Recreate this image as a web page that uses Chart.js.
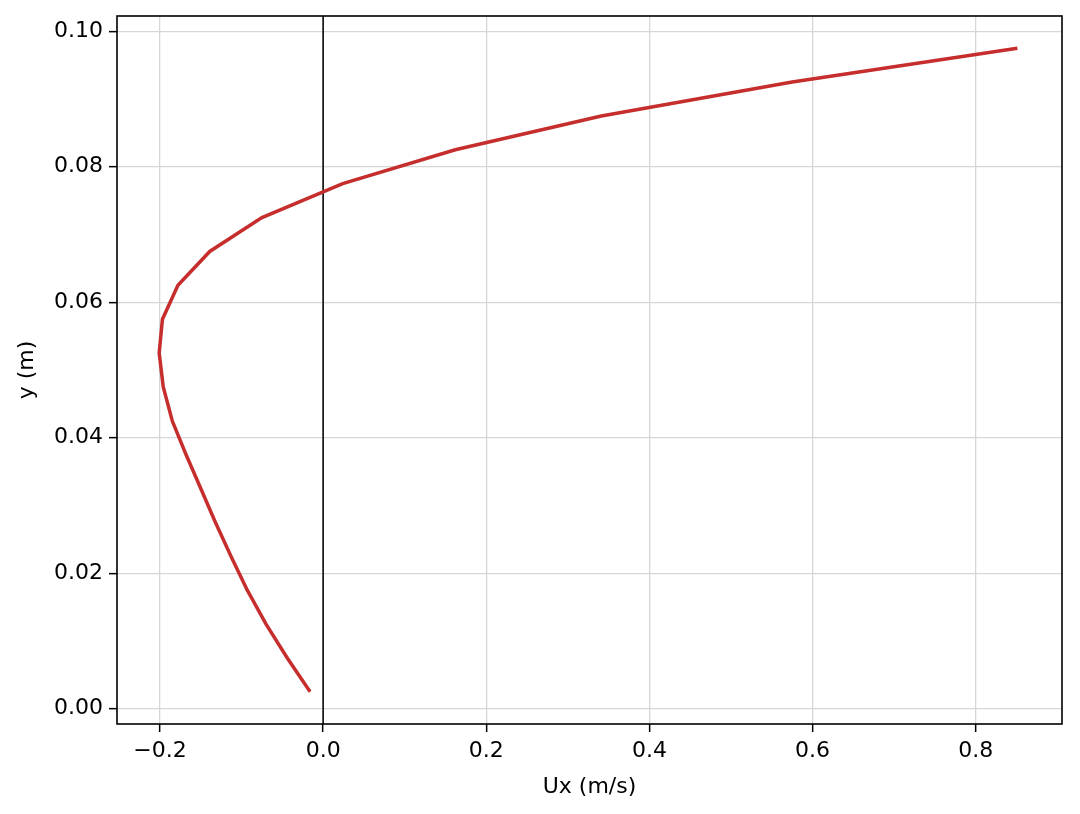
<!DOCTYPE html>
<html>
<head>
<meta charset="utf-8">
<script src="https://cdn.jsdelivr.net/npm/chart.js@4/dist/chart.umd.min.js"></script>
<style>
  html, body { margin: 0; padding: 0; background: #fff; }
  #graph { display: block; }
</style>
</head>
<body>
<canvas id="graph" width="1080" height="814"></canvas>
<script>
// velocity profile
var ux = [-0.016, -0.044, -0.070, -0.093, -0.113, -0.132, -0.150, -0.168, -0.185, -0.196,
          -0.201, -0.197, -0.178, -0.139, -0.075, 0.024, 0.162, 0.341, 0.575, 0.851];
var yPos = [0.0025, 0.0075, 0.0125, 0.0175, 0.0225, 0.0275, 0.0325, 0.0375, 0.0425, 0.0475,
            0.0525, 0.0575, 0.0625, 0.0675, 0.0725, 0.0775, 0.0825, 0.0875, 0.0925, 0.0975];

var xTicks = [-0.2, 0.0, 0.2, 0.4, 0.6, 0.8];
var yTicks = [0.00, 0.02, 0.04, 0.06, 0.08, 0.10];

var points = [];
for (let i = 0; i < ux.length; i++) {
    points.push({ x: ux[i], y: yPos[i] })
}

var police = "'DejaVu Sans', sans-serif";
var taille = 22;

// frame round the plot and the black line at Ux = 0
var cadre = {
    id: 'cadre',
    beforeDatasetsDraw: function (chart) {
        var c = chart.ctx, a = chart.chartArea;
        var x0 = chart.scales.x.getPixelForValue(0);
        c.save();
        c.strokeStyle = '#000';
        c.lineWidth = 1.5;
        c.beginPath();
        c.moveTo(x0, a.top);
        c.lineTo(x0, a.bottom);
        c.stroke();
        c.restore();
    },
    afterDraw: function (chart) {
        var c = chart.ctx, a = chart.chartArea;
        c.save();
        c.strokeStyle = '#000';
        c.lineWidth = 1.6;
        c.strokeRect(a.left, a.top, a.right - a.left, a.bottom - a.top);
        c.restore();
    }
}

function moins(v) {
    return String(v).replace('-', '\u2212');
}

var ctx = document.getElementById('graph').getContext('2d');
var data = {
    datasets: [{
        label: 'Ux',
        data: points,
        showLine: true,
        borderColor: '#c62d2d',
        borderWidth: 3.5,
        pointRadius: 0,
        tension: 0,
        fill: false
    }]
}
var options = {
    responsive: false,
    animation: false,
    layout: { padding: { left: 0, right: 18, top: 16, bottom: 0 } },
    plugins: { legend: { display: false }, tooltip: { enabled: false } },
    scales: {
        x: {
            type: 'linear',
            min: -0.2527,
            max: 0.9057,
            afterBuildTicks: function (s) { s.ticks = xTicks.map(v => ({ value: v })) },
            afterFit: function (s) { s.height = 90; s.paddingLeft = 0; s.paddingRight = 0 },
            grid: { color: '#d6d6d6', lineWidth: 1.3, tickColor: '#000', tickLength: 8, tickWidth: 1.5 },
            border: { display: false },
            ticks: {
                color: '#000',
                font: { family: police, size: taille },
                padding: 6,
                maxRotation: 0,
                callback: function (v) { return moins(v.toFixed(1)) }
            },
            title: { display: true, text: 'Ux (m/s)', color: '#000', font: { family: police, size: taille }, padding: { top: 2, bottom: 14 } }
        },
        y: {
            type: 'linear',
            min: -0.00225,
            max: 0.10225,
            afterBuildTicks: function (s) { s.ticks = yTicks.map(v => ({ value: v })) },
            afterFit: function (s) { s.width = 117; s.paddingTop = 0; s.paddingBottom = 0 },
            grid: { color: '#d6d6d6', lineWidth: 1.3, tickColor: '#000', tickLength: 8, tickWidth: 1.5 },
            border: { display: false },
            ticks: {
                color: '#000',
                font: { family: police, size: taille },
                padding: 6,
                callback: function (v) { return v.toFixed(2) }
            },
            title: { display: true, text: 'y (m)', color: '#000', font: { family: police, size: taille }, padding: { top: 14, bottom: 4 } }
        }
    }
}
var config = {
    type: 'scatter',
    data: data,
    options: options,
    plugins: [cadre]
}
var graph = new Chart(ctx, config)
</script>
</body>
</html>
